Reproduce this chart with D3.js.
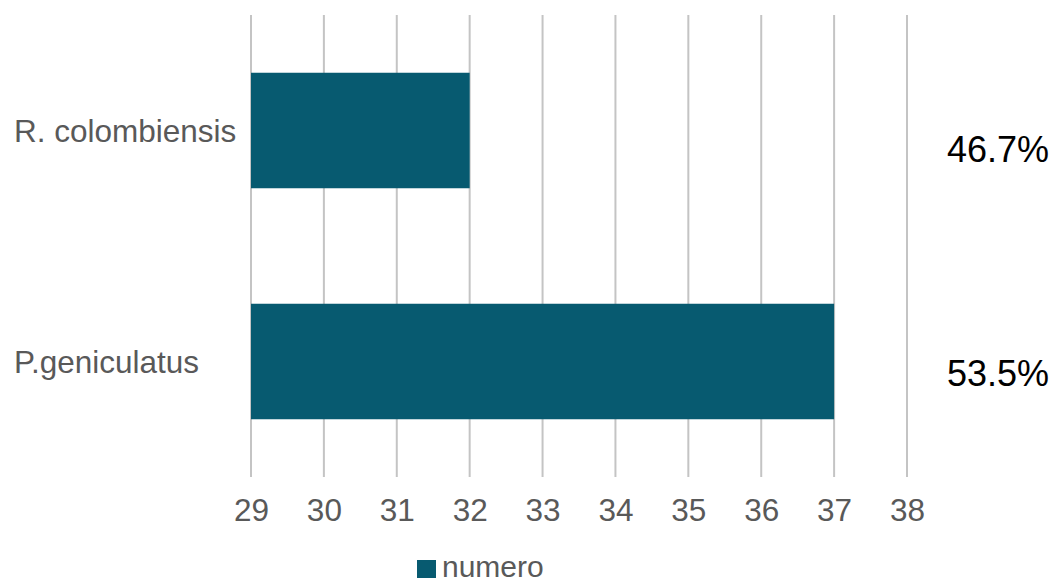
<!DOCTYPE html>
<html>
<head>
<meta charset="utf-8">
<script src="https://cdn.jsdelivr.net/npm/d3@7"></script>
<style>
  html, body { margin: 0; padding: 0; background: #fff; }
  svg { display: block; font-family: "Liberation Sans", Arial, sans-serif; }
</style>
</head>
<body>
<svg id="chart" width="1058" height="583"></svg>
<script>
const categories = ["R. colombiensis", "P.geniculatus"];
const values = [32, 37];
const percentLabels = ["46.7%", "53.5%"];
const tickValues = [29, 30, 31, 32, 33, 34, 35, 36, 37, 38];
const seriesName = "numero";

const svg = d3.select("#chart");
const barColor = "#075a70";
const textColor = "#595959";
const fontFamily = "Liberation Sans, Arial, sans-serif";

const x = d3.scaleLinear().domain([29, 38]).range([251, 907]);
const y = d3.scaleBand().domain(categories).range([15, 477])
  .paddingInner(0.5).paddingOuter(0.25);
// baseline positions of the percent annotations
const yPct = d3.scalePoint().domain(categories).range([162, 386]);

// gridlines
svg.append("g").selectAll("line").data(tickValues).join("line")
  .attr("x1", d => x(d)).attr("x2", d => x(d))
  .attr("y1", 15).attr("y2", 477)
  .attr("stroke", "#c4c4c4").attr("stroke-width", 2);

// bars
svg.append("g").selectAll("rect").data(categories).join("rect")
  .attr("x", x(29))
  .attr("y", d => y(d))
  .attr("width", (d, i) => x(values[i]) - x(29))
  .attr("height", y.bandwidth())
  .attr("fill", barColor);

// x axis labels
const xAxis = d3.axisBottom(x).tickValues(tickValues).tickSize(0).tickPadding(0).tickFormat(d3.format("d"));
const gx = svg.append("g").attr("transform", "translate(0,497)").call(xAxis);
gx.select(".domain").remove();
gx.selectAll("text").attr("fill", textColor).attr("font-size", 31.5)
  .attr("font-family", fontFamily).attr("dy", "0.75em");

// y axis labels (left aligned)
const yAxis = d3.axisLeft(y).tickSize(0).tickPadding(0);
const gy = svg.append("g").attr("transform", "translate(14,0)").call(yAxis);
gy.select(".domain").remove();
gy.selectAll("text").attr("fill", textColor).attr("font-size", 31.5)
  .attr("font-family", fontFamily).attr("text-anchor", "start").attr("x", 0).attr("dy", "0.37em");

// percent labels
svg.append("g").selectAll("text").data(categories).join("text")
  .attr("x", 1049)
  .attr("y", d => yPct(d))
  .attr("text-anchor", "end")
  .attr("font-size", 36)
  .attr("fill", "#000")
  .text((d, i) => percentLabels[i]);

// legend
const lg = svg.append("g");
lg.append("rect").attr("x", 417).attr("y", 560).attr("width", 19).attr("height", 18).attr("fill", barColor);
lg.append("text").attr("x", 442).attr("y", 577).attr("font-size", 30).attr("fill", textColor).text(seriesName);
</script>
</body>
</html>
